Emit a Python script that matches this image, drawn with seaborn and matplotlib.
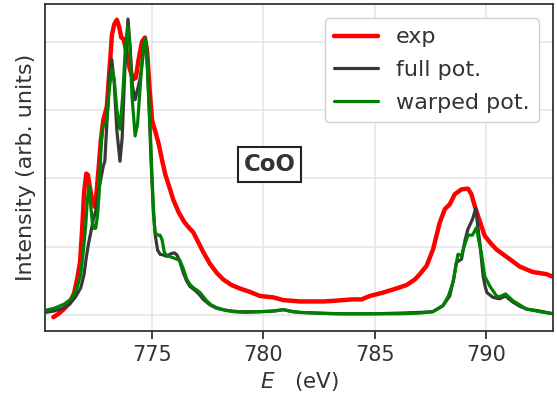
import numpy as np
import pandas as pd
import matplotlib
matplotlib.use("Agg")
import matplotlib.pyplot as plt
import seaborn as sns

# ---- data ----
exp_E = [770.57, 770.8, 771.05, 771.3, 771.5, 771.65, 771.77, 771.87, 771.95, 772.05,
         772.12, 772.22, 772.35, 772.45, 772.59, 772.7, 772.81, 772.97, 773.08, 773.2,
         773.3, 773.42, 773.52, 773.62, 773.72, 773.85, 774.0, 774.15, 774.27, 774.4,
         774.55, 774.68, 774.78, 774.88, 775.0, 775.16, 775.3, 775.46, 775.6, 775.8,
         775.95, 776.2, 776.45, 776.6, 776.85, 777.1, 777.3, 777.6, 777.9, 778.2,
         778.57, 778.94, 779.39, 779.84, 780.44, 780.89, 781.63, 782.2, 782.68, 783.2,
         783.58, 784.0, 784.4, 784.77, 785.37, 785.97, 786.42, 786.79, 787.02, 787.32,
         787.61, 787.91, 788.14, 788.36, 788.59, 788.89, 789.18, 789.33, 789.48, 789.63,
         789.93, 790.2, 790.46, 791.05, 791.5, 792.1, 792.7, 793.0]
exp_I = [-0.03, 0.02, 0.09, 0.18, 0.32, 0.55, 0.78, 1.30, 1.80, 2.07,
         2.05, 1.85, 1.62, 1.58, 2.10, 2.55, 2.85, 3.05, 3.55, 4.10,
         4.25, 4.32, 4.22, 4.06, 4.04, 3.85, 3.60, 3.45, 3.47, 3.75,
         4.00, 4.06, 3.85, 3.35, 2.85, 2.67, 2.50, 2.25, 2.05, 1.85,
         1.69, 1.50, 1.36, 1.30, 1.21, 1.05, 0.92, 0.75, 0.62, 0.52,
         0.44, 0.39, 0.34, 0.28, 0.26, 0.22, 0.20, 0.20, 0.20, 0.21,
         0.22, 0.23, 0.23, 0.28, 0.33, 0.39, 0.44, 0.52, 0.60, 0.72,
         0.96, 1.35, 1.55, 1.62, 1.77, 1.84, 1.85, 1.77, 1.60, 1.45,
         1.16, 1.05, 0.96, 0.82, 0.71, 0.63, 0.60, 0.56]

full_E = [770.2, 770.6, 771.0, 771.3, 771.55, 771.8, 771.95, 772.05, 772.15, 772.25,
          772.35, 772.47, 772.62, 772.81, 772.88, 772.97, 773.08, 773.19, 773.3, 773.42,
          773.56, 773.66, 773.78, 773.92, 774.02, 774.12, 774.24, 774.35, 774.46, 774.58,
          774.68, 774.76, 774.85, 774.95, 775.05, 775.15, 775.25, 775.36, 775.5, 775.65,
          775.85, 776.0, 776.12, 776.25, 776.4, 776.55, 776.7, 776.9, 777.1, 777.3,
          777.6, 777.9, 778.3, 778.9, 779.84, 780.5, 780.89, 781.3, 781.63, 782.5,
          783.5, 785.0, 786.12, 787.0, 787.6, 788.06, 788.36, 788.55, 788.66, 788.8,
          788.89, 789.05, 789.18, 789.38, 789.53, 789.62, 789.71, 789.86, 789.95, 790.03,
          790.3, 790.6, 790.87, 791.0, 791.2, 791.5, 791.8, 792.4, 793.0]
full_I = [0.04, 0.06, 0.10, 0.16, 0.26, 0.40, 0.60, 0.85, 1.05, 1.21,
          1.38, 1.52, 1.85, 2.18, 2.25, 2.80, 3.45, 3.74, 3.40, 2.70,
          2.25, 2.60, 3.60, 4.33, 3.90, 3.35, 3.15, 3.30, 3.45, 3.75,
          4.05, 3.90, 3.20, 2.30, 1.55, 1.15, 0.95, 0.89, 0.88, 0.86,
          0.90, 0.91, 0.88, 0.78, 0.62, 0.50, 0.42, 0.37, 0.31, 0.23,
          0.15, 0.10, 0.07, 0.05, 0.05, 0.06, 0.08, 0.05, 0.04, 0.03,
          0.02, 0.02, 0.03, 0.04, 0.05, 0.14, 0.28, 0.55, 0.77, 0.80,
          0.82, 1.10, 1.26, 1.40, 1.56, 1.30, 1.06, 0.57, 0.42, 0.33,
          0.26, 0.24, 0.28, 0.24, 0.19, 0.13, 0.09, 0.06, 0.02]

warp_E = [770.2, 770.6, 771.05, 771.3, 771.5, 771.65, 771.8, 771.92, 772.02, 772.1,
          772.17, 772.25, 772.32, 772.4, 772.47, 772.55, 772.62, 772.7, 772.77, 772.9,
          772.97, 773.08, 773.19, 773.3, 773.42, 773.56, 773.68, 773.8, 773.91, 774.0,
          774.1, 774.24, 774.35, 774.48, 774.6, 774.68, 774.76, 774.83, 774.91, 775.0,
          775.08, 775.13, 775.25, 775.36, 775.45, 775.55, 775.66, 775.85, 776.1, 776.25,
          776.4, 776.55, 776.7, 776.85, 777.0, 777.15, 777.3, 777.45, 777.65, 777.9,
          778.2, 778.64, 779.2, 779.84, 780.4, 780.89, 781.2, 781.63, 782.3, 783.13,
          785.0, 786.12, 787.0, 787.6, 788.06, 788.3, 788.51, 788.65, 788.73, 788.89,
          789.0, 789.18, 789.38, 789.56, 789.66, 789.78, 789.93, 790.15, 790.46, 790.6,
          790.87, 791.2, 791.5, 791.8, 792.4, 793.0]
warp_I = [0.07, 0.10, 0.16, 0.22, 0.30, 0.42, 0.60, 0.95, 1.30, 1.70,
          1.89, 1.60, 1.35, 1.27, 1.27, 1.45, 1.75, 2.40, 2.75, 2.80,
          2.85, 3.30, 3.60, 3.45, 3.00, 2.72, 3.20, 3.90, 4.22, 3.95,
          3.20, 2.62, 2.80, 3.40, 3.90, 4.05, 3.85, 3.30, 2.76, 2.00,
          1.45, 1.21, 1.17, 1.17, 1.10, 0.92, 0.87, 0.85, 0.82, 0.80,
          0.68, 0.53, 0.45, 0.40, 0.37, 0.33, 0.27, 0.21, 0.15, 0.11,
          0.08, 0.05, 0.04, 0.05, 0.06, 0.08, 0.06, 0.04, 0.03, 0.02,
          0.02, 0.02, 0.03, 0.05, 0.14, 0.28, 0.48, 0.75, 0.89, 0.87,
          1.00, 1.17, 1.17, 1.28, 1.10, 0.91, 0.57, 0.43, 0.28, 0.27,
          0.31, 0.21, 0.15, 0.09, 0.05, 0.02]

series_labels = ["exp", "full pot.", "warped pot."]
x_ticks = [775, 780, 785, 790]
y_ticks = [0, 1, 2, 3, 4]
annotation = "CoO"

# ---- style ----
sns.set_theme(style="whitegrid", rc={
    "axes.edgecolor": "#333333",
    "axes.linewidth": 1.3,
    "grid.color": "#e6e6e6",
    "grid.linewidth": 1.2,
    "xtick.bottom": True,
    "xtick.major.size": 6,
    "xtick.major.width": 1.3,
    "xtick.color": "#333333",
    "axes.labelcolor": "#333333",
    "text.color": "#333333",
    "lines.solid_joinstyle": "round",
    "lines.solid_capstyle": "round",
})
plt.rcParams["font.family"] = ["DejaVu Sans"]

fig = plt.figure(figsize=(5.57, 4.03), dpi=100)
ax = fig.add_axes([0.081, 0.179, 0.912, 0.811])

df_exp = pd.DataFrame({"E": exp_E, "I": exp_I})
df_full = pd.DataFrame({"E": full_E, "I": full_I})
df_warp = pd.DataFrame({"E": warp_E, "I": warp_I})

sns.lineplot(data=df_exp, x="E", y="I", ax=ax, color="#ff0000", linewidth=3.2,
             label=series_labels[0], estimator=None, sort=False)
sns.lineplot(data=df_full, x="E", y="I", ax=ax, color="#383838", linewidth=2.3,
             label=series_labels[1], estimator=None, sort=False)
sns.lineplot(data=df_warp, x="E", y="I", ax=ax, color="#008000", linewidth=2.3,
             label=series_labels[2], estimator=None, sort=False)

ax.set_xlim(770.2, 793.0)
ax.set_ylim(-0.23, 4.55)
ax.set_xticks(x_ticks)
ax.set_yticks(y_ticks)
ax.set_yticklabels([])
ax.tick_params(axis="y", length=0)
ax.tick_params(axis="x", labelsize=15, pad=4)

ax.set_xlabel(r"$E$   (eV)", fontsize=15.5, labelpad=4)
ax.set_ylabel("Intensity (arb. units)", fontsize=16, labelpad=3)

for s in ax.spines.values():
    s.set_visible(True)
    s.set_color("#333333")

ax.text(780.28, 2.20, annotation, ha="center", va="center", fontsize=16.5,
        fontweight="bold", color="#333333",
        bbox=dict(boxstyle="square,pad=0.25", fc="white", ec="#222222", lw=1.5))

leg = ax.legend(loc="upper right", fontsize=16, frameon=True, fancybox=True,
                edgecolor="#d0d0d0", framealpha=1.0, handlelength=2.0,
                labelspacing=0.58, borderaxespad=0.65)

fig.savefig("out.png", dpi=100)
